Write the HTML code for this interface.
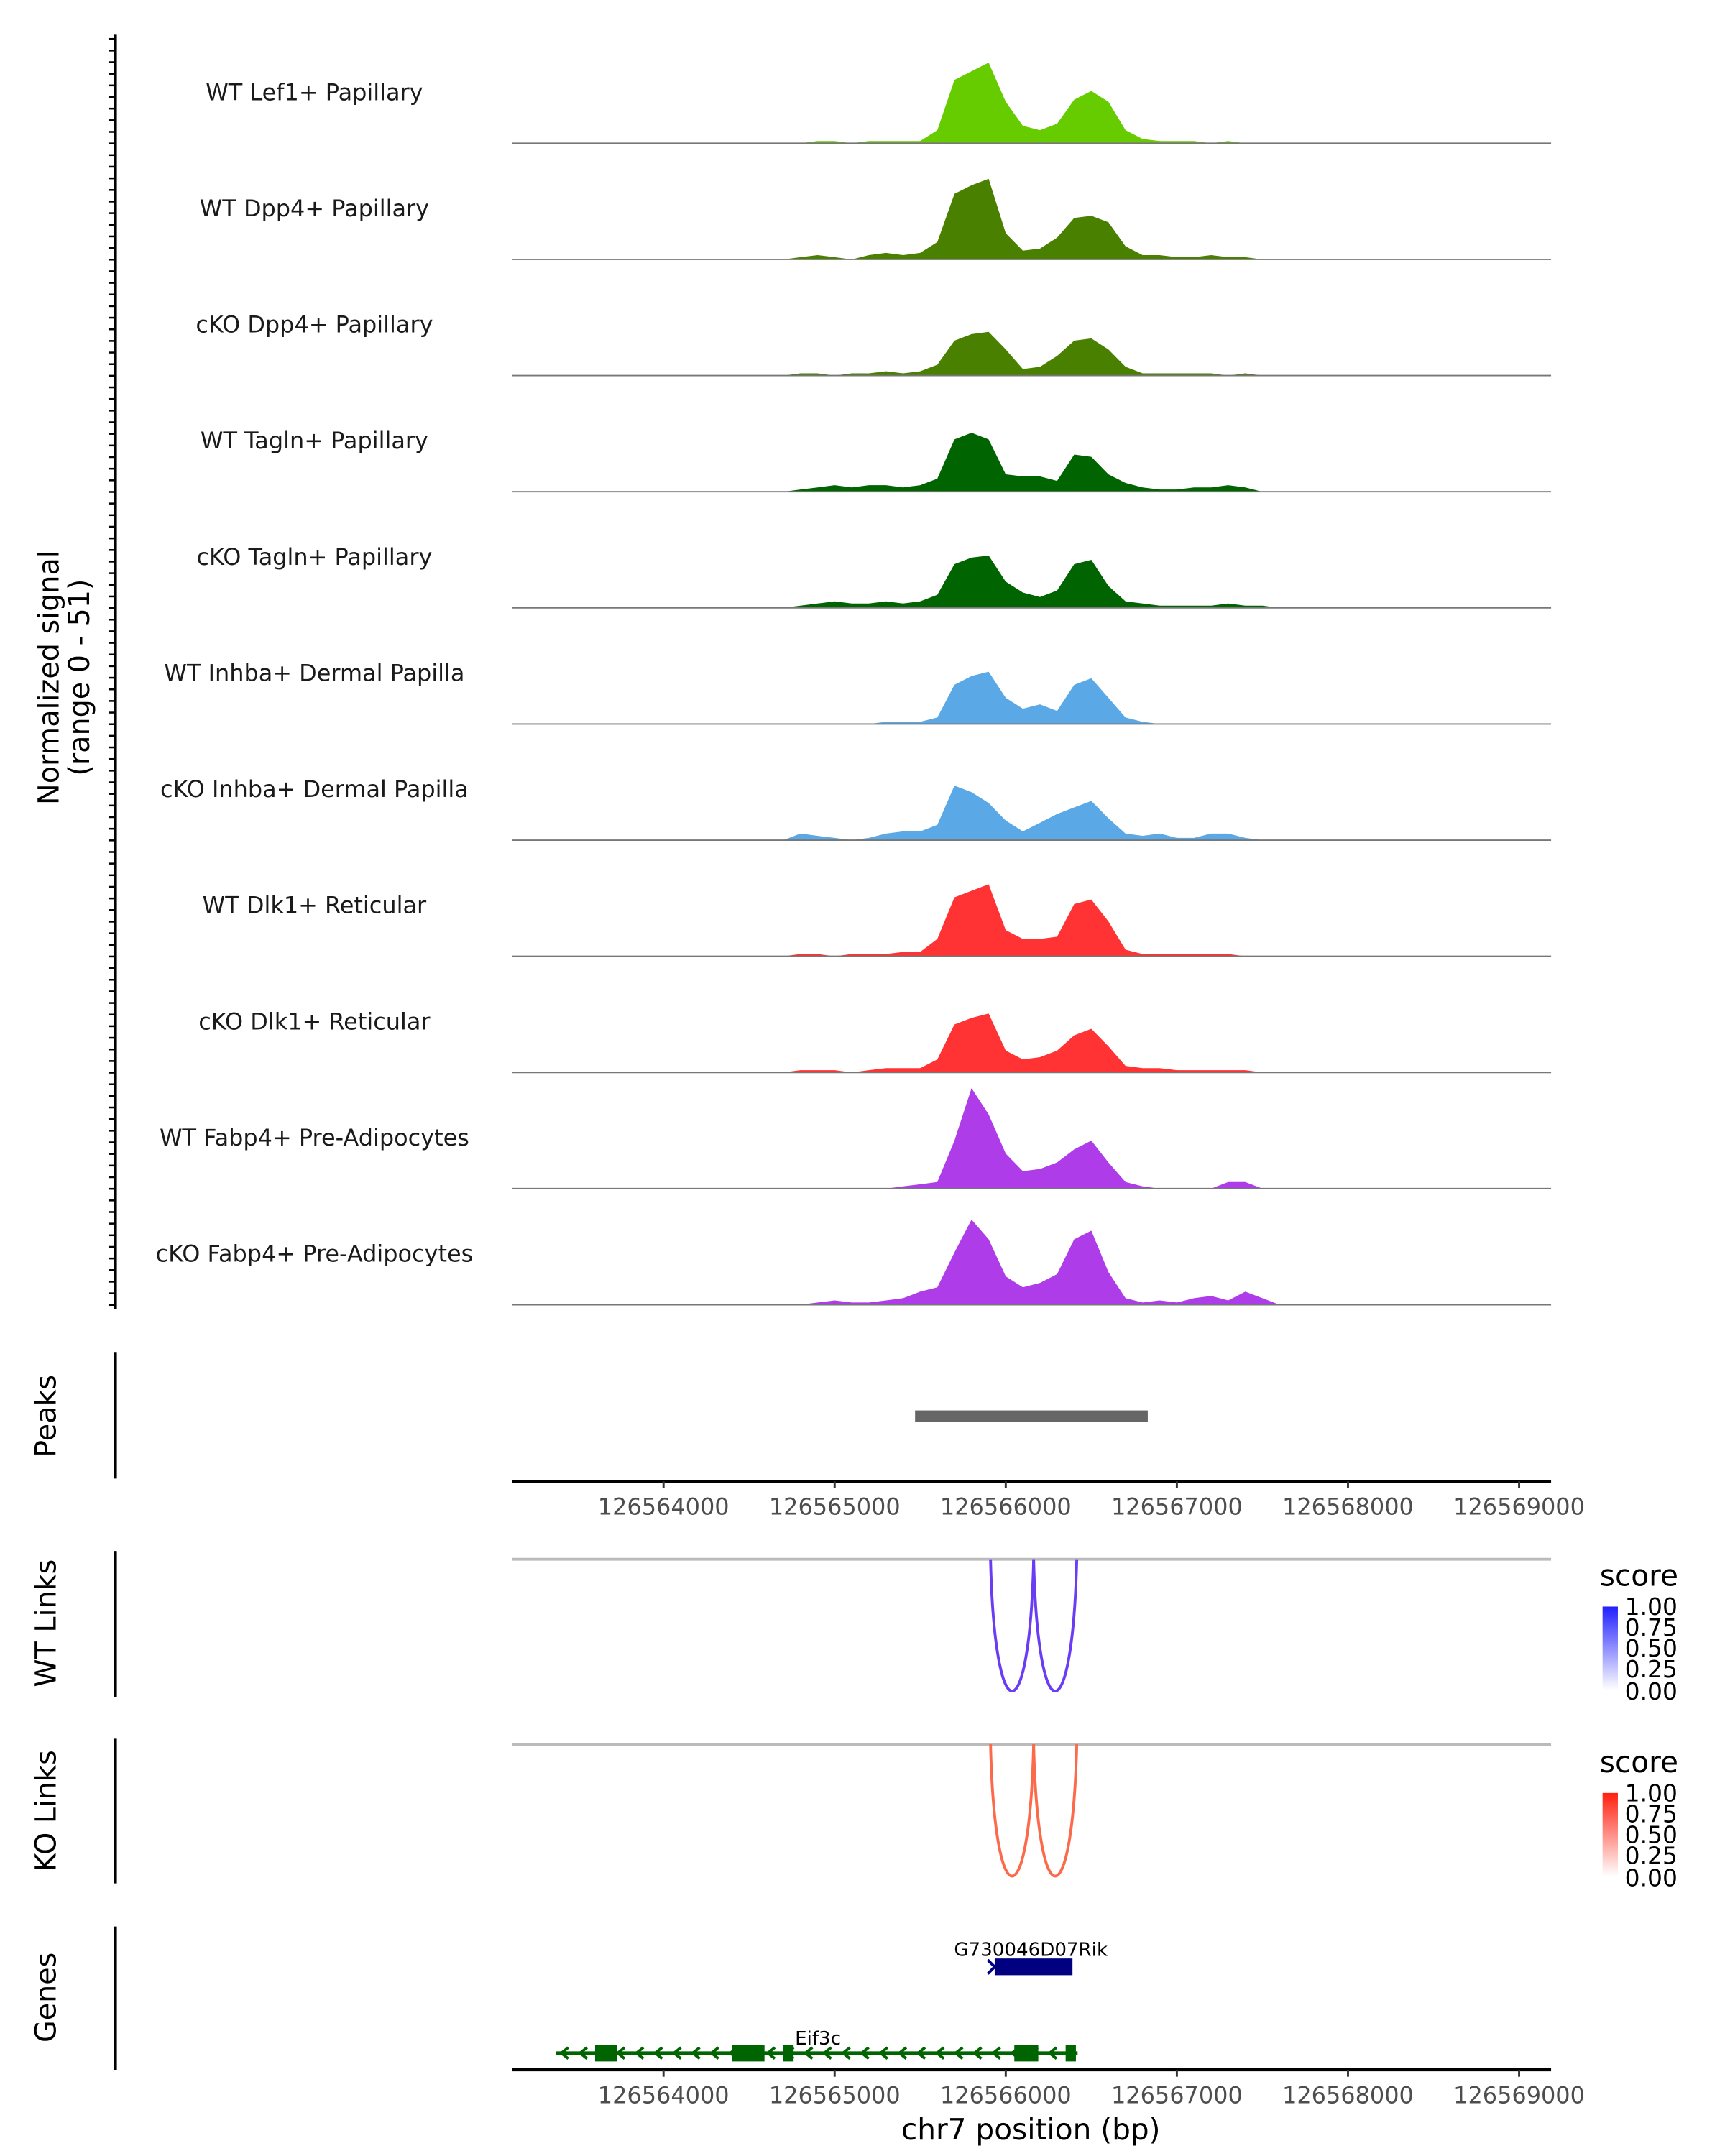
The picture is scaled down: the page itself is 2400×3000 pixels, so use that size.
<!DOCTYPE html>
<html><head><meta charset="utf-8"><style>
html,body{margin:0;padding:0;background:#fff}
svg{display:block}
text{font-family:"DejaVu Sans","Liberation Sans",sans-serif}
</style></head><body>
<svg id="chart" xmlns="http://www.w3.org/2000/svg" width="2400" height="3000" viewBox="0 0 1240 1550">
<rect width="1240" height="1550" fill="#fff"/>
<g id="tracks"></g>
<g id="leftaxis"></g>
<text transform="translate(42,487) rotate(-90)" text-anchor="middle" font-size="20.5" fill="#000">Normalized signal</text>
<text transform="translate(64,487) rotate(-90)" text-anchor="middle" font-size="20.5" fill="#000">(range 0 - 51)</text>
<line x1="83" y1="972" x2="83" y2="1063" stroke="#000" stroke-width="2"/>
<text transform="translate(40,1018) rotate(-90)" text-anchor="middle" font-size="20.5">Peaks</text>
<g id="peaks"></g>
<g id="xaxis1"></g>
<line x1="83" y1="1115" x2="83" y2="1220" stroke="#000" stroke-width="2"/>
<text transform="translate(40,1167) rotate(-90)" text-anchor="middle" font-size="20.5">WT Links</text>
<line x1="83" y1="1250" x2="83" y2="1354" stroke="#000" stroke-width="2"/>
<text transform="translate(40,1302) rotate(-90)" text-anchor="middle" font-size="20.5">KO Links</text>
<g id="links"></g>
<defs>
<linearGradient id="gb" x1="0" y1="1" x2="0" y2="0"><stop offset="0" stop-color="#fff"/><stop offset="1" stop-color="#2020ff"/></linearGradient>
<linearGradient id="gr" x1="0" y1="1" x2="0" y2="0"><stop offset="0" stop-color="#fff"/><stop offset="1" stop-color="#ff2010"/></linearGradient>
</defs>
<g>
<text x="1150" y="1140" font-size="21">score</text>
<rect x="1152" y="1155" width="11" height="60" fill="url(#gb)"/>
<g font-size="17"><text x="1168" y="1161">1.00</text><text x="1168" y="1176">0.75</text><text x="1168" y="1191">0.50</text><text x="1168" y="1206">0.25</text><text x="1168" y="1222">0.00</text></g>
</g>
<g>
<text x="1150" y="1274" font-size="21">score</text>
<rect x="1152" y="1289" width="11" height="60" fill="url(#gr)"/>
<g font-size="17"><text x="1168" y="1295">1.00</text><text x="1168" y="1310">0.75</text><text x="1168" y="1325">0.50</text><text x="1168" y="1340">0.25</text><text x="1168" y="1356">0.00</text></g>
</g>
<line x1="83" y1="1385" x2="83" y2="1488" stroke="#000" stroke-width="2"/>
<text transform="translate(40,1436) rotate(-90)" text-anchor="middle" font-size="20.5">Genes</text>
<g id="genes"></g>
<g id="xaxis2"></g>
<text x="741" y="1538" text-anchor="middle" font-size="21">chr7 position (bp)</text>
</svg>
<script>
const trackNames=["WT Lef1+ Papillary","WT Dpp4+ Papillary","cKO Dpp4+ Papillary","WT Tagln+ Papillary","cKO Tagln+ Papillary","WT Inhba+ Dermal Papilla","cKO Inhba+ Dermal Papilla","WT Dlk1+ Reticular","cKO Dlk1+ Reticular","WT Fabp4+ Pre-Adipocytes","cKO Fabp4+ Pre-Adipocytes"];
const trackColors=["#66cc00","#4a8000","#4a8000","#006400","#006400","#5aa9e6","#5aa9e6","#ff3333","#ff3333","#ae3ce8","#ae3ce8"];
const bins=[126564800,126564900,126565000,126565100,126565200,126565300,126565400,126565500,126565600,126565700,126565800,126565900,126566000,126566100,126566200,126566300,126566400,126566500,126566600,126566700,126566800,126566900,126567000,126567100,126567200,126567300,126567400,126567500];
const sigLef1   =[0,1,1,0,1,1,1,1,6,29,33,37,19,8,6,9,20,24,19,6,2,1,1,1,0,1,0,0];
const sigDpp4WT =[1,2,1,0,2,3,2,3,8,30,34,37,12,4,5,10,19,20,17,6,2,2,1,1,2,1,1,0];
const sigDpp4KO =[1,1,0,1,1,2,1,2,5,16,19,20,12,3,4,9,16,17,12,4,1,1,1,1,1,0,1,0];
const sigTaglnWT=[1,2,3,2,3,3,2,3,6,24,27,24,8,7,7,5,17,16,8,4,2,1,1,2,2,3,2,0];
const sigTaglnKO=[1,2,3,2,2,3,2,3,6,20,23,24,12,7,5,8,20,22,10,3,2,1,1,1,1,2,1,1];
const sigInhbaWT=[0,0,0,0,0,1,1,1,3,18,22,24,12,7,9,6,18,21,12,3,1,0,0,0,0,0,0,0];
const sigInhbaKO=[3,2,1,0,1,3,4,4,7,25,22,17,9,4,8,12,15,18,10,3,2,3,1,1,3,3,1,0];
const sigDlk1WT =[1,1,0,1,1,1,2,2,8,27,30,33,12,8,8,9,24,26,16,3,1,1,1,1,1,1,0,0];
const sigDlk1KO =[1,1,1,0,1,2,2,2,6,22,25,27,10,6,7,10,17,20,12,3,2,2,1,1,1,1,1,0];
const sigFabp4WT=[0,0,0,0,0,0,1,2,3,22,46,34,16,8,9,12,18,22,12,3,1,0,0,0,0,3,3,0];
const sigFabp4KO=[0,1,2,1,1,2,3,6,8,24,39,30,13,8,10,14,30,34,15,3,1,2,1,3,4,2,6,3];
const trackSignals=[sigLef1,sigDpp4WT,sigDpp4KO,sigTaglnWT,sigTaglnKO,sigInhbaWT,sigInhbaKO,sigDlk1WT,sigDlk1KO,sigFabp4WT,sigFabp4KO];
const xTicks=[126564000,126565000,126566000,126567000,126568000,126569000];
const peakStart=126565470, peakEnd=126566830;
const wtLinks=[[126565911,126566163],[126566163,126566415]];
const koLinks=[[126565911,126566163],[126566163,126566415]];
const eif3cStart=126563370, eif3cEnd=126566420;
const eif3cExons=[[126563600,126563730],[126564400,126564590],[126564700,126564760],[126566050,126566190],[126566350,126566410]];
const rikStart=126565911, rikEnd=126566390;

const NS="http://www.w3.org/2000/svg";
const X0=368,X1=1115,D0=126563114,D1=126569187;
const xs=v=>X0+(v-D0)/(D1-D0)*(X1-X0);
const yMax=51, trackH=80;
function mk(tag,attrs,parent){const e=document.createElementNS(NS,tag);for(const k in attrs)e.setAttribute(k,attrs[k]);parent.appendChild(e);return e;}

const tg=document.getElementById('tracks');
const base0=103, step=83.5;
trackNames.forEach((name,i)=>{
  const b=base0+i*step;
  const g=mk('g',{},tg);
  
  
  const vals=trackSignals[i];
  let d='M'+X0+','+b+' L'+xs(bins[0]-100)+','+b;
  vals.forEach((v,j)=>{d+=' L'+xs(bins[j]).toFixed(1)+','+(b-v/yMax*trackH).toFixed(1);});
  d+=' L'+xs(bins[bins.length-1]+100)+','+b+' Z';
  const p=mk('path',{d:d,fill:trackColors[i]},g);
  
  
  const l=mk('line',{x1:X0,x2:X1,y1:b,y2:b,stroke:'#777','stroke-width':1},g);
  
  
  const t=mk('text',{x:226,y:b-31,'text-anchor':'middle','font-size':16.5,fill:'#1a1a1a'},g);
  t.textContent=name;
  
  
});
const la=document.getElementById('leftaxis');
mk('line',{x1:83,y1:25,x2:83,y2:941,stroke:'#000','stroke-width':2},la);
for(let y=28;y<=940;y+=8.35){mk('line',{x1:78,x2:83,y1:y,y2:y,stroke:'#000','stroke-width':1.3},la);}

const pk=document.getElementById('peaks');
const pr=mk('rect',{x:xs(peakStart),y:1014,width:xs(peakEnd)-xs(peakStart),height:8,fill:'#666'},pk);



function axis(id,y){
  const g=document.getElementById(id);
  mk('line',{x1:X0,x2:X1,y1:y,y2:y,stroke:'#000','stroke-width':2.2},g);
  xTicks.forEach(t=>{
    const x=xs(t);
    mk('line',{x1:x,x2:x,y1:y,y2:y+5,stroke:'#333','stroke-width':1.5},g);
    const tx=mk('text',{x:x,y:y+24,'text-anchor':'middle','font-size':16.5,fill:'#4d4d4d'},g);
    tx.textContent=t;
    
    
  });
}
axis('xaxis1',1065);
axis('xaxis2',1488);

const lg=document.getElementById('links');
function drawLinks(list,y0,color){
  mk('line',{x1:X0,x2:X1,y1:y0,y2:y0,stroke:'#bbb','stroke-width':2},lg);
  const h=95;
  list.forEach(([a,b])=>{
    const xa=xs(a),xb=xs(b);
    const p=mk('path',{d:`M${xa},${y0} C${xa+3},${y0+h*1.33} ${xb-3},${y0+h*1.33} ${xb},${y0}`,fill:'none',stroke:color,'stroke-width':2},lg);
    
    
  });
}
drawLinks(wtLinks,1121,'#6a3df5');
drawLinks(koLinks,1254,'#fb6a4a');

const gn=document.getElementById('genes');
const rx1=xs(rikStart),rx2=xs(rikEnd);
const rb=mk('rect',{x:rx1+3,y:1408,width:rx2-rx1-3,height:12,fill:'#000080'},gn);


mk('path',{d:`M${rx1-2},${1409} L${rx1+3},${1414} L${rx1-2},${1419}`,fill:'none',stroke:'#000080','stroke-width':2},gn);
const rt=mk('text',{x:741,y:1406,'text-anchor':'middle','font-size':13.5},gn);rt.textContent='G730046D07Rik';
const ey=1476;
const ex1=xs(eif3cStart),ex2=xs(eif3cEnd);
const el=mk('line',{x1:ex1,x2:ex2,y1:ey,y2:ey,stroke:'#006400','stroke-width':2.5},gn);


for(let x=ex1+4;x<ex2-8;x+=13.5){mk('path',{d:`M${x+5},${ey-4} L${x},${ey} L${x+5},${ey+4}`,fill:'none',stroke:'#006400','stroke-width':2},gn);}
eif3cExons.forEach(([a,b])=>{mk('rect',{x:xs(a),y:ey-6,width:xs(b)-xs(a),height:12,fill:'#006400'},gn);});
const et=mk('text',{x:588,y:1470,'text-anchor':'middle','font-size':13.5},gn);et.textContent='Eif3c';
</script>
</body></html>
